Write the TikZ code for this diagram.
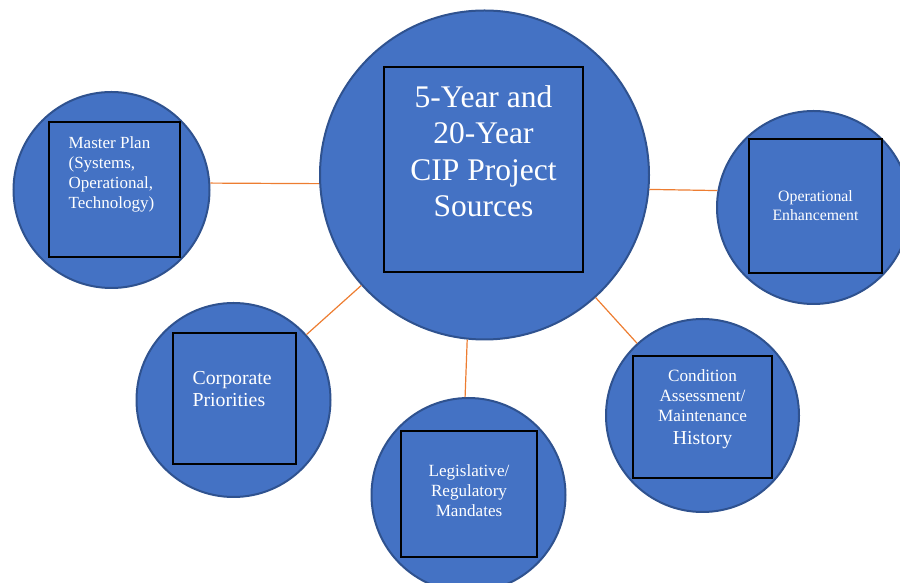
\documentclass[tikz,border=0pt]{standalone}
\usepackage{fontspec}
\setmainfont{Liberation Serif}
\usetikzlibrary{positioning}
\definecolor{cipBlue}{RGB}{68,114,196}
\definecolor{cipEdge}{RGB}{47,82,143}
\definecolor{cipOrange}{RGB}{237,125,49}

\begin{document}
\begin{tikzpicture}[x=1pt, y=1pt,
    srccircle/.style={circle, draw=cipEdge, line width=2pt, fill=cipBlue,
      inner sep=0pt, minimum size=#1},
    srcbox/.style 2 args={draw=black, line width=1.2pt, inner sep=0pt,
      minimum width=#1, minimum height=#2},
    srctext/.style={text=white, inner sep=0pt, align=center},
    link/.style={draw=cipOrange, line width=1.2pt}
  ]
  \useasboundingbox (0,0) rectangle (900,583);

  % Centre: project sources
  \node[srccircle=329pt] (hub) at (484.5,408) {};
  \node[srcbox={199pt}{205pt}] (hubbox) at (483.5,413.5) {};
  \node[srctext, font=\fontsize{31.5}{36.5}\selectfont, below=19pt of hubbox.north]
    (hubtext) {5-Year and\\20-Year\\CIP Project\\Sources};

  % Master plan
  \node[srccircle=196pt] (plan) at (111.5,393) {};
  \node[srcbox={131pt}{135pt}] (planbox) at (114.5,393.5) {};
  \node[srctext, align=left, font=\fontsize{17}{20}\selectfont,
    below right=15pt and 20pt of planbox.north west]
    (plantext) {Master Plan\\(Systems,\\Operational,\\Technology)};

  % Operational enhancement
  \node[srccircle=193pt] (oper) at (813.5,375.5) {};
  \node[srcbox={133pt}{134pt}] (operbox) at (815.5,377) {};
  \node[srctext, font=\fontsize{15.8}{19}\selectfont, below=52pt of operbox.north]
    (opertext) {Operational\\Enhancement};

  % Corporate priorities
  \node[srccircle=194pt] (corp) at (233.5,183) {};
  \node[srcbox={123pt}{131pt}] (corpbox) at (234.5,184.5) {};
  \node[srctext, align=left, font=\fontsize{19.8}{22.5}\selectfont,
    below right=38.5pt and 20pt of corpbox.north west]
    (corptext) {Corporate\\Priorities};

  % Legislative / regulatory
  \node[srccircle=194pt] (legis) at (468.5,88) {};
  \node[srcbox={136pt}{126pt}] (legisbox) at (469,89) {};
  \node[srctext, font=\fontsize{17.1}{20}\selectfont, below=34pt of legisbox.north]
    (legistext) {Legislative/\\Regulatory\\Mandates};

  % Condition assessment
  \node[srccircle=193pt] (cond) at (702.5,167.5) {};
  \node[srcbox={139pt}{122pt}] (condbox) at (702.5,166) {};
  \node[srctext, font=\fontsize{17.2}{20}\selectfont, below=14pt of condbox.north]
    (condtext) {Condition\\Assessment/\\Maintenance\\[3pt]{\fontsize{19.8}{22}\selectfont History}};

  % links to the centre
  \draw[link] (plan.4) -- (hub.183);
  \draw[link] (hub.-5) -- (oper.170);
  \draw[link] (corp) -- (hub);
  \draw[link] (hub.264) -- (legis.92);
  \draw[link] (hub) -- (cond);
\end{tikzpicture}
\end{document}
